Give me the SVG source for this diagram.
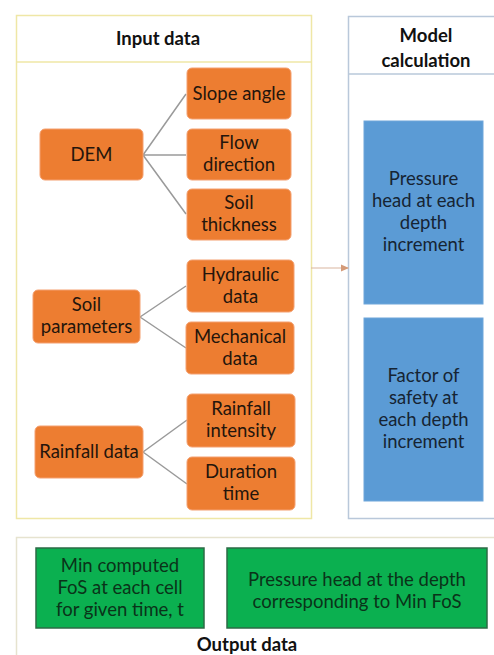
<svg xmlns="http://www.w3.org/2000/svg" width="494" height="655" viewBox="0 0 494 655">
<style>
  .t{font-family:Lato,"Open Sans","Liberation Sans",sans-serif;font-size:18.5px;text-anchor:middle}
  .h{font-weight:bold;fill:#111}
  .o rect{fill:#ED7D31;stroke:#f4a070;stroke-width:1}
  .o text{fill:#24150c}
  .b rect{fill:#5B9BD5;stroke:#6fa6da;stroke-width:1}
  .b text{fill:#162433}
  .g rect{fill:#0BB050;stroke:#2d6b45;stroke-width:1.5}
  .g text{fill:#0a3319}
  .ln{stroke:#9a9a9a;stroke-width:1.5;fill:none}
</style>
<defs>
  <marker id="ah" markerWidth="8" markerHeight="8" refX="7" refY="4" orient="auto" markerUnits="userSpaceOnUse">
    <path d="M0,0.5 L8,4 L0,7.5 Z" fill="#d49a78"/>
  </marker>
</defs>
<rect width="494" height="655" fill="#ffffff"/>

<g id="input-panel">
  <rect x="16.5" y="15.5" width="295" height="503" fill="#fff" stroke="#efe7a6" stroke-width="1.5"/>
  <line x1="16.5" y1="62" x2="311.5" y2="62" stroke="#efe7a6" stroke-width="1.5"/>
  <text class="t h" x="158" y="45">Input data</text>
</g>

<g id="model-panel">
  <rect x="348.5" y="16.5" width="160" height="502" fill="#fff" stroke="#b9c8da" stroke-width="1.5"/>
  <line x1="348.5" y1="74" x2="494" y2="74" stroke="#b9c8da" stroke-width="1.5"/>
  <text class="t h" x="426" y="42">Model</text>
  <text class="t h" x="426" y="67">calculation</text>
</g>

<g id="output-panel">
  <rect x="16.5" y="537.5" width="490" height="130" fill="#fff" stroke="#e6e3cf" stroke-width="1.5"/>
  <text class="t h" x="247" y="651">Output data</text>
</g>

<g id="connectors">
  <path class="ln" d="M143,155 L186,94 M143,155 L186,155 M143,155 L186,214"/>
  <path class="ln" d="M140,317 L186,286 M140,317 L186,348"/>
  <path class="ln" d="M143,452 L187,420 M143,452 L187,484"/>
  <line x1="311" y1="268" x2="348" y2="268" stroke="#d9b6a0" stroke-width="1.2" marker-end="url(#ah)"/>
</g>

<g id="dem" class="o"><rect x="40" y="129" width="103" height="51" rx="5"/><text class="t" x="91.5" y="161">DEM</text></g>
<g id="slope-angle" class="o"><rect x="187" y="68" width="104" height="51" rx="5"/><text class="t" x="239" y="100">Slope angle</text></g>
<g id="flow-direction" class="o"><rect x="187" y="129" width="104" height="51" rx="5"/><text class="t" x="239" y="149">Flow</text><text class="t" x="239" y="171">direction</text></g>
<g id="soil-thickness" class="o"><rect x="187" y="189" width="104" height="51" rx="5"/><text class="t" x="239" y="209">Soil</text><text class="t" x="239" y="231">thickness</text></g>
<g id="soil-parameters" class="o"><rect x="33" y="290" width="107" height="53" rx="5"/><text class="t" x="86.5" y="311">Soil</text><text class="t" x="86.5" y="333">parameters</text></g>
<g id="hydraulic-data" class="o"><rect x="187" y="260" width="107" height="52" rx="5"/><text class="t" x="240.5" y="281">Hydraulic</text><text class="t" x="240.5" y="303">data</text></g>
<g id="mechanical-data" class="o"><rect x="186" y="322" width="108" height="52" rx="5"/><text class="t" x="240" y="343">Mechanical</text><text class="t" x="240" y="365">data</text></g>
<g id="rainfall-data" class="o"><rect x="35" y="426" width="108" height="52" rx="5"/><text class="t" x="89" y="458">Rainfall data</text></g>
<g id="rainfall-intensity" class="o"><rect x="187" y="394" width="108" height="53" rx="5"/><text class="t" x="241" y="415">Rainfall</text><text class="t" x="241" y="437">intensity</text></g>
<g id="duration-time" class="o"><rect x="187" y="457" width="108" height="53" rx="5"/><text class="t" x="241" y="478">Duration</text><text class="t" x="241" y="500">time</text></g>

<g id="pressure-head" class="b"><rect x="364" y="121" width="119" height="183"/>
  <text class="t" x="423.5" y="185">Pressure</text><text class="t" x="423.5" y="207">head at each</text><text class="t" x="423.5" y="229">depth</text><text class="t" x="423.5" y="251">increment</text></g>
<g id="factor-of-safety" class="b"><rect x="364" y="318" width="119" height="183"/>
  <text class="t" x="423.5" y="382">Factor of</text><text class="t" x="423.5" y="404">safety at</text><text class="t" x="423.5" y="426">each depth</text><text class="t" x="423.5" y="448">increment</text></g>

<g id="min-fos" class="g"><rect x="36" y="548" width="168" height="80"/>
  <text class="t" x="120" y="572">Min computed</text><text class="t" x="120" y="594">FoS at each cell</text><text class="t" x="120" y="616">for given time, t</text></g>
<g id="pressure-head-min-fos" class="g"><rect x="227" y="548" width="260" height="80"/>
  <text class="t" x="357" y="586">Pressure head at the depth</text><text class="t" x="357" y="608">corresponding to Min FoS</text></g>
</svg>
